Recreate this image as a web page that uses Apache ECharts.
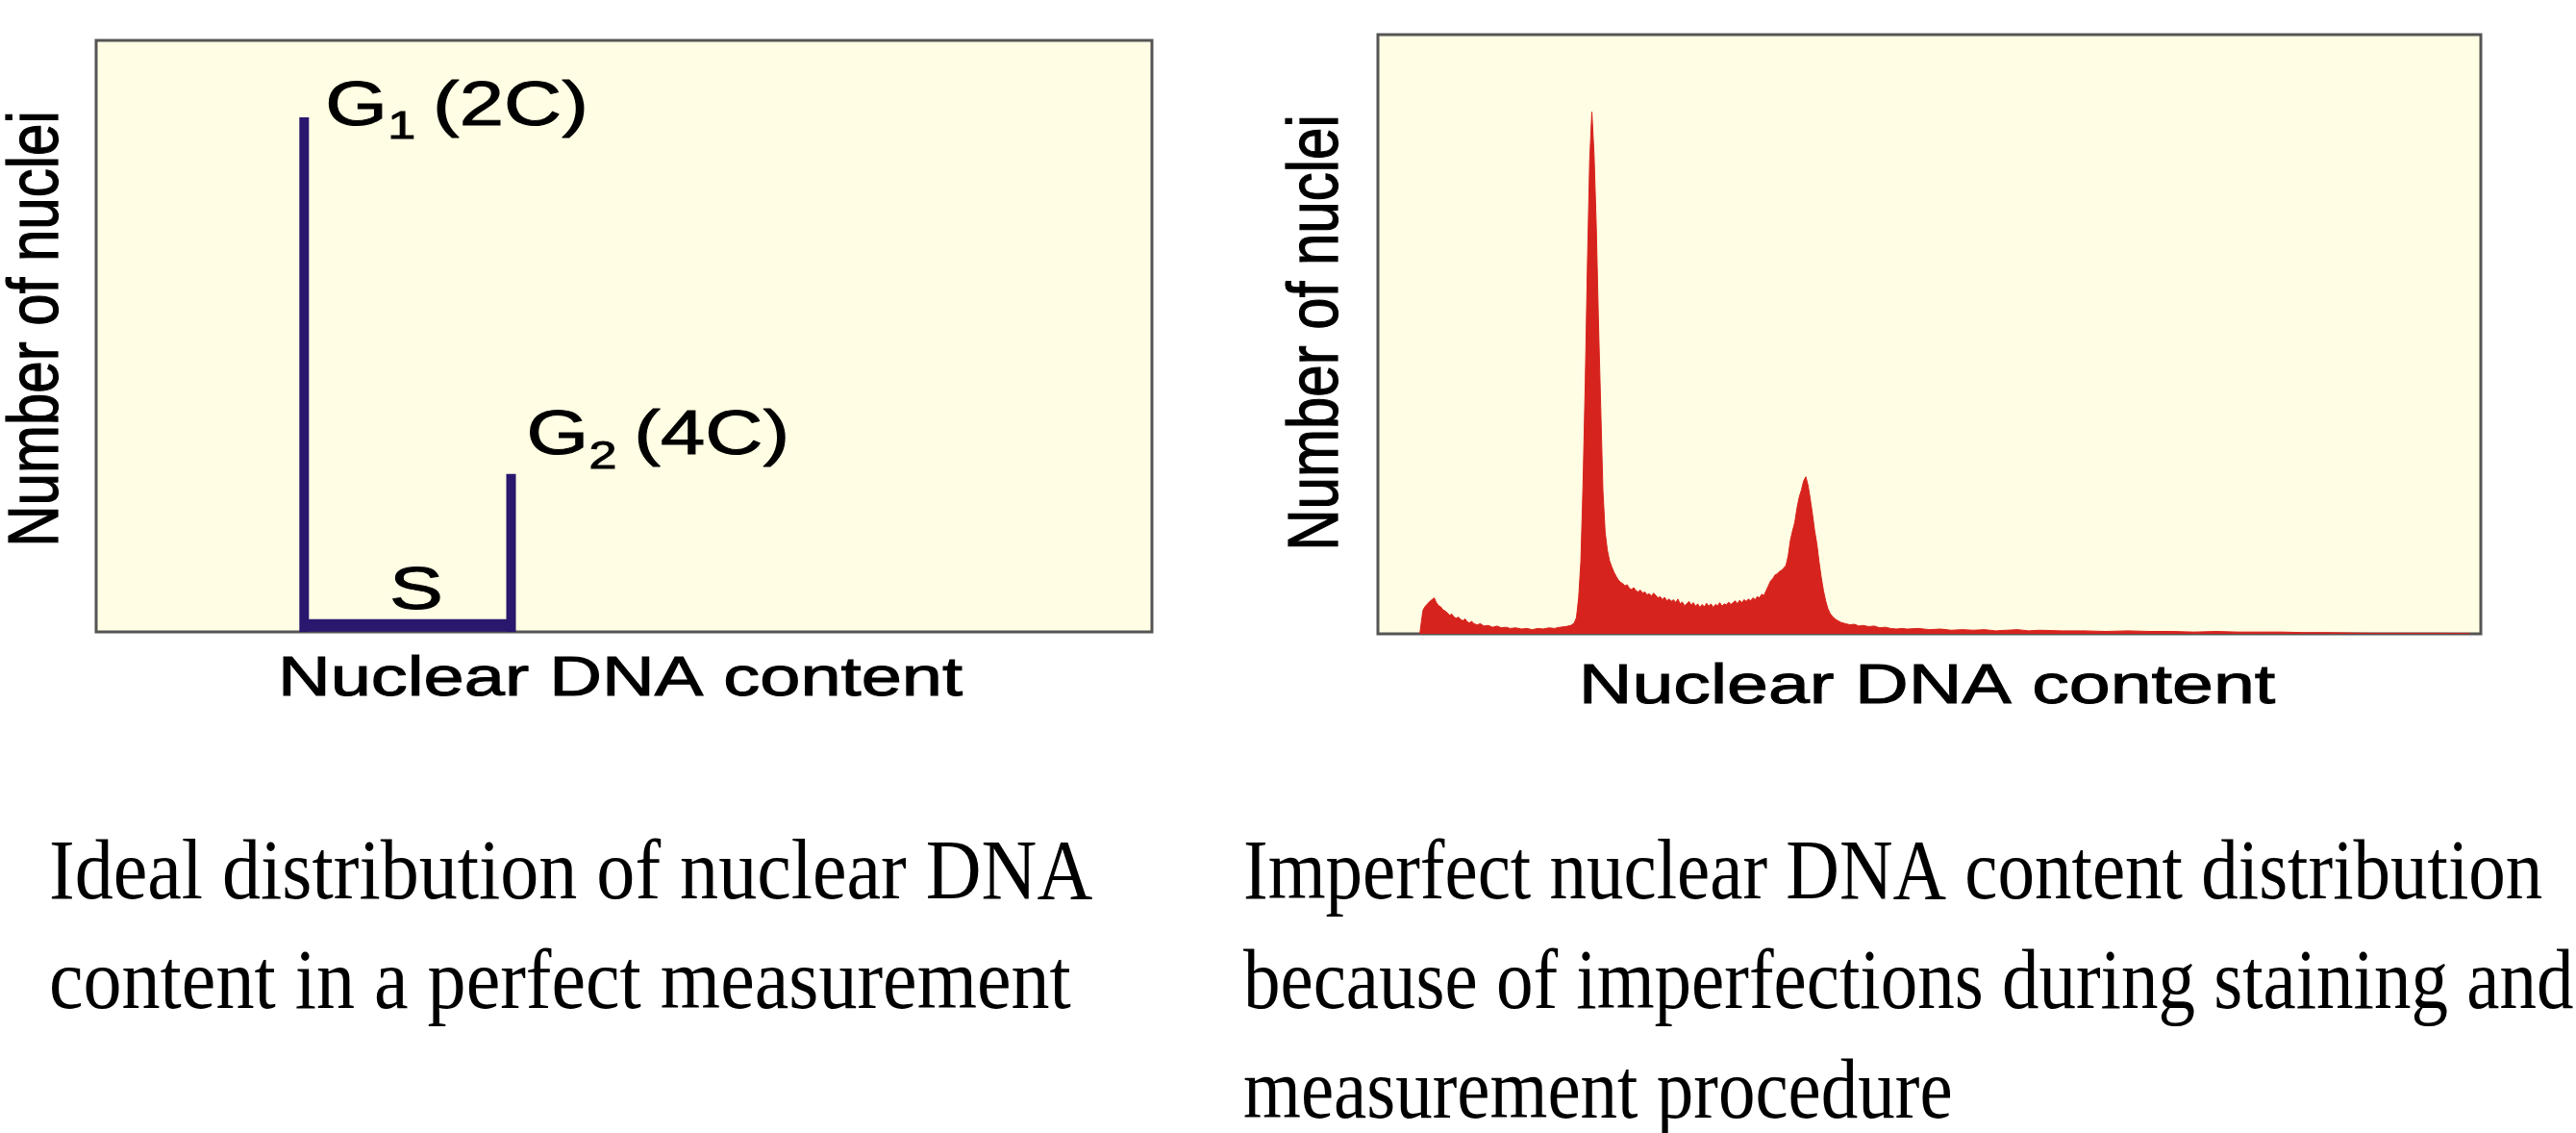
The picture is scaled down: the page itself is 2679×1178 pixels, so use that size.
<!DOCTYPE html>
<html>
<head>
<meta charset="utf-8">
<script src="https://cdn.jsdelivr.net/npm/echarts/dist/echarts.min.js"></script>
<style>
  html, body { margin: 0; padding: 0; background: #fff; }
  #main { width: 2679px; height: 1178px; }
</style>
</head>
<body>
<div id="main"></div>
<script>
// ideal histogram: G1 and G2 spikes joined by the S plateau
const idealPhase = ['1', '2'];
const idealContent = ['(2C)', '(4C)'];
const idealChannel = [19.7, 39.3];
const idealCount = [87, 26.7];
const sLevel = 1.1;

const dnaChannel = [
  38, 39, 40, 41, 43, 45, 47, 49, 51, 53, 55, 57, 59, 61, 63, 65, 67, 69, 71, 73,
  75, 77, 79, 81, 83, 85, 87, 90, 93, 96, 100, 104, 108, 112, 116, 120, 125, 130, 135, 140,
  145, 150, 155, 160, 165, 170, 175, 178, 180, 182, 184, 186, 188, 190, 192, 194, 196, 198, 200, 202,
  204, 206, 208, 210, 212, 214, 216, 218, 220, 222, 224, 226, 228, 230, 232, 234, 236, 238, 240, 242,
  244, 246, 248, 250, 252, 254, 256, 258, 260, 262, 264, 266, 268, 270, 272, 274, 276, 278, 280, 282,
  284, 286, 288, 290, 292, 294, 296, 298, 300, 302, 304, 306, 308, 310, 312, 314, 316, 318, 320, 322,
  324, 326, 328, 330, 332, 334, 336, 338, 340, 342, 344, 346, 348, 350, 352, 354, 356, 358, 360, 362,
  364, 366, 368, 370, 372, 374, 376, 378, 380, 382, 384, 386, 388, 390, 392, 394, 396, 398, 400, 402,
  404, 406, 408, 410, 413, 416, 420, 424, 428, 432, 436, 440, 445, 450, 455, 460, 465, 470, 475, 480,
  490, 500, 510, 520, 530, 540, 550, 560, 570, 580, 590, 600, 620, 640, 660, 680, 700, 720, 740, 760,
  780, 800, 820, 840, 860, 880, 900, 930, 960, 990
];
const nucleiCount = [
  0, 0, 28, 40, 46, 50, 54, 57, 60, 52, 47, 45, 40, 38, 35, 31, 33, 28, 26, 28,
  24, 22, 25, 20, 18, 21, 17, 15, 17, 13, 14, 11, 13, 10, 11, 9, 10, 8, 9, 7,
  9, 8, 10, 9, 11, 12, 14, 18, 27, 60, 120, 250, 420, 620, 790, 871, 800, 680, 520, 380,
  240, 170, 140, 122, 112, 103, 96, 90, 86, 84, 80, 82, 76, 74, 77, 72, 70, 73, 68, 70,
  65, 67, 63, 68, 64, 60, 62, 57, 61, 55, 58, 54, 57, 52, 58, 50, 53, 47, 50, 54,
  48, 52, 46, 50, 44, 49, 45, 51, 46, 50, 44, 49, 47, 52, 46, 50, 48, 53, 49, 52,
  55, 50, 56, 52, 57, 54, 58, 55, 60, 57, 62, 60, 66, 64, 72, 80, 88, 92, 98, 100,
  104, 106, 110, 114, 130, 156, 172, 186, 210, 228, 240, 255, 262, 248, 225, 200, 172, 150, 120, 94,
  72, 55, 42, 34, 27, 23, 19, 17, 15, 16, 13, 14, 12, 13, 10, 11, 9, 8, 9, 8,
  9, 7, 8, 6, 7, 6, 7, 5, 6, 7, 5, 6, 5, 5, 4, 5, 4, 4, 3, 4,
  3, 3, 3, 2, 2, 1.5, 1, 1, 1, 0.5
];

const axisNames = ['Nuclear DNA content', 'Number of nuclei'];
const captionLeft = ['Ideal distribution of nuclear DNA', 'content in a perfect measurement'];
const captionRight = [
  'Imperfect nuclear DNA content distribution',
  'because of imperfections during staining and',
  'measurement procedure'
];

const sans = '"Liberation Sans", Arial, sans-serif';
const serif = '"Liberation Serif", "Times New Roman", serif';
const navy = '#2a176e';
const red = '#d7231d';
const wide = 1.33; // lettering in the plots is stretched sideways

const chart = echarts.init(document.getElementById('main'));

const panel = {
  show: true,
  backgroundColor: '#fffde3',
  borderColor: '#555555',
  borderWidth: 3
};

function spike(x, y, w) {
  return {
    type: 'line',
    xAxisIndex: 0,
    yAxisIndex: 0,
    symbol: 'none',
    silent: true,
    lineStyle: { color: navy, width: w },
    data: [[x, 0], [x, y]]
  };
}

const option = {
  backgroundColor: '#ffffff',
  animation: false,
  grid: [
    Object.assign({ left: 100, top: 42, width: 1098, height: 615 }, panel),
    Object.assign({ left: 1433, top: 36, width: 1147, height: 623 }, panel)
  ],
  xAxis: [
    { gridIndex: 0, type: 'value', min: 0, max: 100, show: false },
    { gridIndex: 1, type: 'value', min: 0, max: 1000, show: false }
  ],
  yAxis: [
    { gridIndex: 0, type: 'value', min: 0, max: 100, show: false },
    { gridIndex: 1, type: 'value', min: 0, max: 1000, show: false }
  ],
  series: [
    spike(idealChannel[0], idealCount[0], 10),
    spike(idealChannel[1], idealCount[1], 10),
    {
      type: 'line',
      xAxisIndex: 0,
      yAxisIndex: 0,
      symbol: 'none',
      silent: true,
      lineStyle: { color: navy, width: 13 },
      data: [[idealChannel[0], sLevel], [idealChannel[1], sLevel]]
    },
    {
      type: 'line',
      xAxisIndex: 1,
      yAxisIndex: 1,
      symbol: 'none',
      silent: true,
      lineStyle: { color: red, width: 1 },
      areaStyle: { color: red, opacity: 1 },
      data: dnaChannel.map((c, i) => [c, nucleiCount[i]])
    }
  ]
};
chart.setOption(option);

// text is laid out after the axes exist, so it can follow the data
function txt(text, x, y, size, family, opts) {
  return Object.assign({
    type: 'text',
    x: x,
    y: y,
    silent: true,
    style: {
      text: text,
      fontSize: size,
      fontFamily: family,
      fill: '#000',
      stroke: '#000',
      lineWidth: 1,
      align: 'center',
      verticalAlign: 'middle'
    }
  }, opts || {});
}

function piece(text, x, y, size) {
  return {
    type: 'text',
    x: x,
    y: y,
    style: {
      text: text, fontSize: size, fontFamily: sans, fill: '#000',
      stroke: '#000', lineWidth: 1, align: 'left', verticalAlign: 'middle'
    }
  };
}

function phaseLabel(i, dx, dy) {
  const p = chart.convertToPixel({ gridIndex: 0 }, [idealChannel[i], idealCount[i]]);
  return {
    type: 'group',
    x: p[0] + dx,
    y: p[1] + dy,
    scaleX: 1.3,
    silent: true,
    children: [
      piece('G', 0, 0, 64),
      piece(idealPhase[i], 50, 21, 40),
      piece(idealContent[i], 86, 0, 64)
    ]
  };
}

function captionBlock(lines, x, squeeze) {
  return lines.map((line, i) => txt(line, x, 911 + i * 114, 88, serif, {
    scaleX: squeeze,
    style: { text: line, fontSize: 88, fontFamily: serif, fill: '#000', align: 'left', verticalAlign: 'middle' }
  }));
}

const sMid = chart.convertToPixel({ gridIndex: 0 }, [(idealChannel[0] + idealChannel[1]) / 2, sLevel]);

const graphic = [
  phaseLabel(0, 22, -10),
  phaseLabel(1, 16, -38),
  txt('S', sMid[0] + 9, sMid[1] - 35, 63, sans, { scaleX: wide }),
  txt(axisNames[0], 645, 707, 57, sans, { scaleX: wide }),
  txt(axisNames[0], 2004, 715, 58, sans, { scaleX: wide }),
  txt(axisNames[1], 40, 342, 60, sans, { rotation: Math.PI / 2, scaleY: 1.22 }),
  txt(axisNames[1], 1371, 346, 60, sans, { rotation: Math.PI / 2, scaleY: 1.22 })
].concat(captionBlock(captionLeft, 51, 0.91), captionBlock(captionRight, 1293, 0.875));

chart.setOption({ graphic: graphic });
</script>
</body>
</html>
